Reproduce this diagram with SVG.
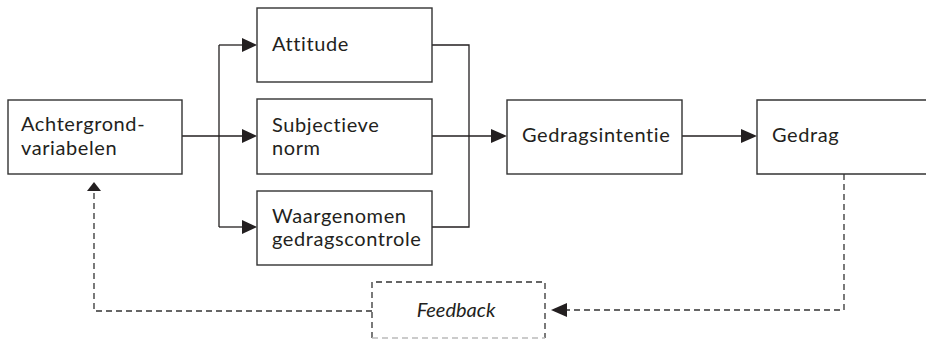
<svg xmlns="http://www.w3.org/2000/svg" width="926" height="339" viewBox="0 0 926 339">
<defs>
<style>
.box{fill:#fff;stroke:#333;stroke-width:1.4}
.line{fill:none;stroke:#231f20;stroke-width:1.3}
.dash{fill:none;stroke:#333;stroke-width:1.3;stroke-dasharray:6 4}
.t{font-family:Lato,"Open Sans",sans-serif;font-size:20px;letter-spacing:0.6px;fill:#231f20}
.ti{font-family:Lato,"Open Sans",sans-serif;font-size:20px;font-style:italic;fill:#231f20}
.ah{fill:#231f20}
</style>
</defs>
<rect width="926" height="339" fill="#fff"/>
<g id="connectors">
<path class="line" d="M182 136 H243"/>
<path class="line" d="M219 45 V227"/>
<path class="line" d="M219 45 H243"/>
<path class="line" d="M219 227 H243"/>
<polygon class="ah" points="242,38 257,45 242,52"/>
<polygon class="ah" points="242,129 257,136 242,143"/>
<polygon class="ah" points="242,220 257,227 242,234"/>
<path class="line" d="M432 45 H469 V227 H432"/>
<path class="line" d="M432 136 H492"/>
<polygon class="ah" points="491,129 507,136 491,143"/>
<path class="line" d="M682 136 H742"/>
<polygon class="ah" points="741,129 757,136 741,143"/>
<path class="dash" d="M844 174 V310 H566"/>
<polygon class="ah" points="567,303 551,310 567,317"/>
<path class="dash" d="M372 311 H94 V190"/>
<polygon class="ah" points="87,191 94,182 101,191"/>
</g>
<g id="achtergrond">
<rect class="box" x="8" y="100" width="174" height="74"/>
<text class="t" x="21" y="131">Achtergrond-</text>
<text class="t" x="21" y="155">variabelen</text>
</g>
<g id="attitude">
<rect class="box" x="257" y="8" width="175" height="74"/>
<text class="t" x="272" y="51">Attitude</text>
</g>
<g id="subjectieve">
<rect class="box" x="257" y="99" width="175" height="75"/>
<text class="t" x="272" y="132">Subjectieve</text>
<text class="t" x="272" y="155">norm</text>
</g>
<g id="waargenomen">
<rect class="box" x="257" y="191" width="175" height="74"/>
<text class="t" x="272" y="223">Waargenomen</text>
<text class="t" x="272" y="246">gedragscontrole</text>
</g>
<g id="gedragsintentie">
<rect class="box" x="507" y="100" width="175" height="74"/>
<text class="t" x="522" y="142">Gedragsintentie</text>
</g>
<g id="gedrag">
<path class="box" d="M930 100 H757 V174 H930"/>
<text class="t" x="772" y="142">Gedrag</text>
</g>
<g id="feedback">
<path class="dash" d="M372 338 V282 H545 V338"/>
<path fill="none" stroke="#bbb" stroke-width="1.3" stroke-dasharray="6 4" d="M372 338 H545"/>
<text class="ti" x="456" y="317" text-anchor="middle">Feedback</text>
</g>
</svg>
